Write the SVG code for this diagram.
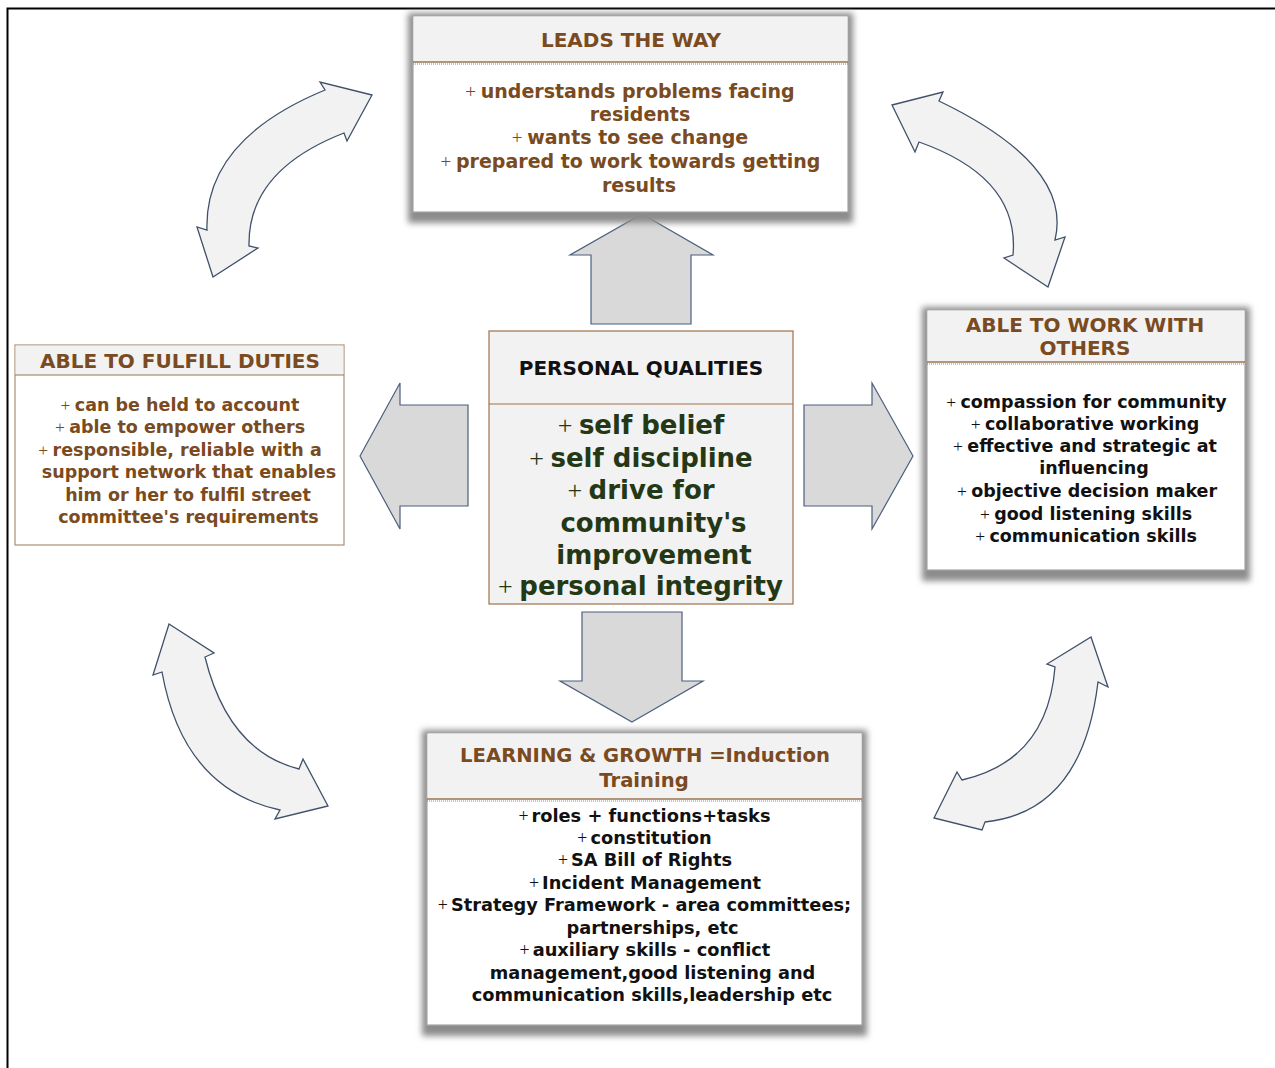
<svg xmlns="http://www.w3.org/2000/svg" width="1275" height="1068" viewBox="0 0 1275 1068">
<style>
.t{font-family:"DejaVu Sans","Liberation Sans",sans-serif;font-weight:bold;text-anchor:middle}
.br{fill:#7a4a21}
.bk{fill:#111111}
.gr{fill:#253816}
.p{font-family:"Liberation Serif",serif;font-weight:normal}
.hd{fill:#f2f2f2}
.blk{fill:#d9d9d9;stroke:#4b5f7e;stroke-width:1.2}
.crv{fill:#f2f2f2;stroke:#3f5068;stroke-width:1.3}
.sep{stroke:#9a7550;stroke-width:1.5}
.dot{stroke:#888;stroke-width:1;stroke-dasharray:1 1}
.shd{fill:#8c8c8c;filter:url(#blur)}
</style>
<defs>
<filter id="blur" x="-10%" y="-15%" width="120%" height="135%"><feGaussianBlur stdDeviation="3"/></filter>
</defs>
<rect width="1275" height="1068" fill="#ffffff"/>
<path d="M7.5 1068 V8.5 H1275" fill="none" stroke="#000" stroke-width="2"/>

<g id="connectors">
<path class="blk" d="M642 214 L713 255 L691 255 L691 324 L591 324 L591 255 L570 255 Z"/>
<path class="blk" d="M632 722 L703 681 L682 681 L682 612 L582 612 L582 681 L560 681 Z"/>
<path class="blk" d="M360 456 L400 383 L400 405 L468 405 L468 506 L400 506 L400 529 Z"/>
<path class="blk" d="M913 456 L872 383 L872 405 L804 405 L804 506 L872 506 L872 529 Z"/>
<path class="crv" d="M372 95 L320 82 L325 90 Q204 140 207 230 L197 227 L213 277 L258 248 L249 246 Q247.5 170.5 344 133 L347 141 Z"/>
<path class="crv" d="M892 105 L943 92 L939 101 Q1073 165.5 1055 240 L1065 237 L1048 287 L1004 258 L1013 255 Q1020 177.5 919 142 L915 152 Z"/>
<path class="crv" d="M169 624 L214 653 L205 657 Q228 751 299 769 L303 759 L328 806 L275 819 L280 810 Q183 789 162 672 L153 675 Z"/>
<path class="crv" d="M1091 637 L1108 687 L1098 682 Q1082.5 812 985 822 L982 830 L934 818 L957 772 L962 780 Q1047.5 760.5 1055 667 L1047 664 Z"/>
</g>

<g id="leads">
<rect class="shd" x="408" y="13" width="445" height="210"/>
<rect x="413" y="16" width="435" height="196" fill="#fff" stroke="#a6a6a6" stroke-width="1.2"/>
<rect class="hd" x="413.6" y="16.6" width="433.8" height="45.4"/>
<line class="sep" x1="413" y1="62" x2="848" y2="62"/>
<line class="dot" x1="413" y1="64" x2="848" y2="64"/>
<text class="t br" x="631" y="46.5" font-size="20">LEADS THE WAY</text>
<g class="t br" font-size="19">
<text x="630" y="98"><tspan class="p">+ </tspan>understands problems facing</text>
<text x="640" y="121">residents</text>
<text x="630" y="144"><tspan class="p">+ </tspan>wants to see change</text>
<text x="630.5" y="168"><tspan class="p">+ </tspan>prepared to work towards getting</text>
<text x="639" y="192">results</text>
</g>
</g>

<g id="fulfill">
<rect x="15" y="345" width="329" height="200" fill="#fff" stroke="#a98f74" stroke-width="1.2"/>
<rect class="hd" x="15.6" y="345.6" width="327.8" height="29.4"/>
<line x1="15" y1="375" x2="344" y2="375" stroke="#9a7550" stroke-width="1.2"/>
<text class="t br" x="180" y="368" font-size="20">ABLE TO FULFILL DUTIES</text>
<g class="t br" font-size="17.5">
<text x="180" y="411"><tspan class="p">+ </tspan>can be held to account</text>
<text x="180" y="433"><tspan class="p">+ </tspan>able to empower others</text>
<text x="180" y="455.5"><tspan class="p">+ </tspan>responsible, reliable with a</text>
<text x="189" y="478">support network that enables</text>
<text x="188" y="500.5">him or her to fulfil street</text>
<text x="188.5" y="523">committee's requirements</text>
</g>
</g>

<g id="personal">
<rect x="489" y="331" width="304" height="273" fill="#f2f2f2" stroke="#a0714a" stroke-width="1.2"/>
<line x1="489" y1="404" x2="793" y2="404" stroke="#a0714a" stroke-width="1.2"/>
<text class="t bk" x="641" y="375" font-size="20">PERSONAL QUALITIES</text>
<g class="t gr" font-size="26">
<text x="641" y="434"><tspan class="p">+ </tspan>self belief</text>
<text x="641" y="467"><tspan class="p">+ </tspan>self discipline</text>
<text x="641" y="499"><tspan class="p">+ </tspan>drive for</text>
<text x="653.5" y="532">community's</text>
<text x="654" y="564">improvement</text>
<text x="640.5" y="595"><tspan class="p">+ </tspan>personal integrity</text>
</g>
</g>

<g id="workwith">
<rect class="shd" x="922" y="307" width="328" height="274"/>
<rect x="927" y="310" width="318" height="260" fill="#fff" stroke="#a6a6a6" stroke-width="1.2"/>
<rect class="hd" x="927.6" y="310.6" width="316.8" height="51.4"/>
<line class="sep" x1="927" y1="362" x2="1245" y2="362"/>
<line class="dot" x1="927" y1="364" x2="1245" y2="364"/>
<text class="t br" x="1085" y="332" font-size="20">ABLE TO WORK WITH</text>
<text class="t br" x="1085" y="355" font-size="20">OTHERS</text>
<g class="t bk" font-size="17.5">
<text x="1086.5" y="407.5"><tspan class="p">+ </tspan>compassion for community</text>
<text x="1085" y="429.5"><tspan class="p">+ </tspan>collaborative working</text>
<text x="1085" y="452"><tspan class="p">+ </tspan>effective and strategic at</text>
<text x="1094" y="474">influencing</text>
<text x="1087" y="497"><tspan class="p">+ </tspan>objective decision maker</text>
<text x="1086" y="519.5"><tspan class="p">+ </tspan>good listening skills</text>
<text x="1086" y="542"><tspan class="p">+ </tspan>communication skills</text>
</g>
</g>

<g id="learning">
<rect class="shd" x="422" y="730" width="445" height="306"/>
<rect x="427" y="733" width="435" height="292" fill="#fff" stroke="#a6a6a6" stroke-width="1.2"/>
<rect class="hd" x="427.6" y="733.6" width="433.8" height="65.4"/>
<line class="sep" x1="427" y1="799" x2="862" y2="799"/>
<line class="dot" x1="427" y1="801" x2="862" y2="801"/>
<text class="t br" x="645" y="762" font-size="19.6">LEARNING &amp; GROWTH =Induction</text>
<text class="t br" x="644" y="787" font-size="19.6">Training</text>
<g class="t bk" font-size="17.8">
<text x="644.5" y="822"><tspan class="p">+</tspan><tspan dx="3">roles + functions+tasks</tspan></text>
<text x="644.5" y="843.5"><tspan class="p">+</tspan><tspan dx="3">constitution</tspan></text>
<text x="645" y="865.5"><tspan class="p">+</tspan><tspan dx="3">SA Bill of Rights</tspan></text>
<text x="645" y="888.5"><tspan class="p">+</tspan><tspan dx="3">Incident Management</tspan></text>
<text x="644.5" y="911"><tspan class="p">+</tspan><tspan dx="3">Strategy Framework - area committees;</tspan></text>
<text x="652.5" y="933.5">partnerships, etc</text>
<text x="645" y="956"><tspan class="p">+</tspan><tspan dx="3">auxiliary skills - conflict</tspan></text>
<text x="652.5" y="979">management,good listening and</text>
<text x="652" y="1001">communication skills,leadership etc</text>
</g>
</g>
</svg>
